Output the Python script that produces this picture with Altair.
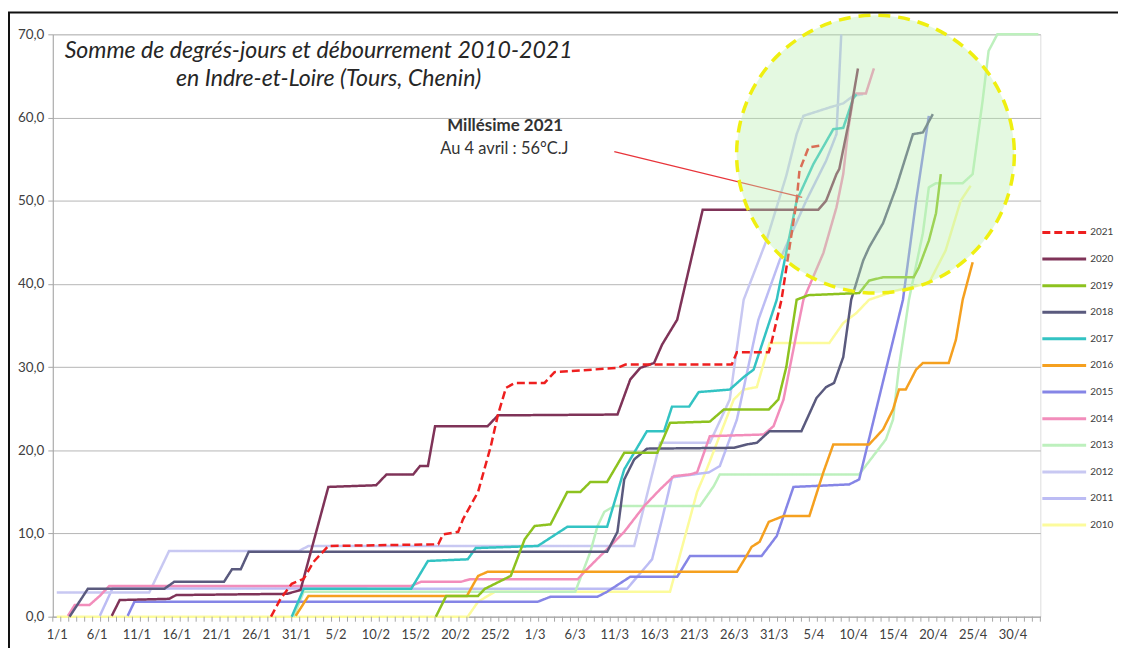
import altair as alt
import pandas as pd

# ---------------- data ----------------
years = ["2021", "2020", "2019", "2018", "2017", "2016",
         "2015", "2014", "2013", "2012", "2011", "2010"]
colors = ["#ee1f1f", "#7f3358", "#8dc21f", "#5a5a7e", "#33c3c3", "#f5a01f",
          "#8585e6", "#f28dbb", "#bdf0bd", "#c8c8f2", "#bcbcf4", "#fcfb9c"]
tick_labels = ["1/1", "6/1", "11/1", "16/1", "21/1", "26/1", "31/1", "5/2", "10/2",
               "15/2", "20/2", "25/2", "1/3", "6/3", "11/3", "16/3", "21/3", "26/3",
               "31/3", "5/4", "10/4", "15/4", "20/4", "25/4", "30/4"]
label_days = [0, 5, 10, 15, 20, 25, 30, 35, 40, 45, 50, 55, 60, 65, 70, 75, 80, 85,
              90, 95, 100, 105, 110, 115, 120]
category_edges = [c - 0.5 for c in range(0, 125)]

d2021 = [26.9, 28.1, 29.5, 31, 32.25, 34.1, 47.9, 48.5, 50.4, 51, 52.9, 54.5, 55.4, 56.4,
         57.5, 61.25, 62.5, 70.4, 71.4, 84.75, 85.4, 89.4, 89.75, 91, 92.9, 93.25, 94.4, 95.75]
v2021 = [0, 2.15, 3.95, 4.55, 6.6, 8.5, 8.7, 9.9, 10.2, 11.7, 15.0, 20.5, 24.3, 27.5,
         28.1, 28.1, 29.4, 29.9, 30.3, 30.3, 31.8, 31.8, 33.0, 38.1, 50.0, 53.6, 56.4, 56.6]

d2020 = [6.9, 7.9, 14.1, 15, 28.9, 30.6, 34.1, 40.1, 41.4, 44.75, 45.6, 46.6, 47.5, 54.1,
         55.4, 70.4, 72, 73.25, 75, 76, 77.9, 81.1, 95.6, 96.6, 97.9, 98.25, 99.4, 100.6]
v2020 = [0.1, 2.0, 2.15, 2.6, 2.75, 3.2, 15.6, 15.8, 17.1, 17.1, 18.1, 18.1, 22.9, 22.9,
         24.2, 24.3, 28.5, 29.9, 30.5, 32.7, 35.7, 48.9, 48.9, 50.0, 53.2, 53.8, 59.2, 65.9]

d2019 = [47.6, 48.9, 52.9, 53.75, 57, 58.75, 60, 62, 64.1, 65.75, 67, 69.1, 71.25, 75.4,
         77, 82, 83.75, 89.4, 90.6, 91.6, 92.9, 94.4, 100.75, 102, 103.75, 107.6, 108.25,
         109.5, 110.4, 111]
v2019 = [0, 2.5, 2.5, 3.35, 4.9, 9.3, 10.9, 11.1, 15.0, 15.0, 16.2, 16.2, 19.7, 19.7,
         23.3, 23.45, 24.9, 24.9, 26.1, 30.0, 38.1, 38.65, 38.9, 40.4, 40.8, 40.8, 42.0,
         45.2, 48.5, 53.2]

d2018 = [1.6, 3.9, 13.5, 14.75, 21, 22, 23.1, 24.1, 69.1, 70.4, 71.25, 72.5, 74.1, 85,
         86.6, 87.9, 89.5, 93.5, 95.4, 96.6, 97.6, 98.75, 99.75, 101.25, 102, 103.75,
         105.4, 107.5, 108.75, 110]
v2018 = [0, 3.35, 3.35, 4.2, 4.2, 5.7, 5.7, 7.8, 7.8, 10.2, 16.5, 18.9, 20.2, 20.3,
         20.7, 20.9, 22.3, 22.3, 26.3, 27.6, 28.1, 31.2, 38.1, 42.8, 44.4, 47.3,
         51.6, 58.0, 58.2, 60.4]

d2017 = [29.5, 31, 44.5, 46.6, 51.6, 52.6, 60.4, 64.1, 69.1, 71.25, 74.1, 76.25, 77.25,
         79.4, 80.6, 84.5, 86.25, 87.5, 90.4, 92.9, 95, 97.5, 98.75, 100, 100.4]
v2017 = [0, 3.35, 3.35, 6.7, 6.9, 8.25, 8.5, 10.8, 10.8, 17.7, 22.3, 22.3, 25.25,
         25.25, 27.0, 27.3, 28.8, 29.7, 38.1, 50.0, 54.4, 58.6, 58.75, 62.3, 62.8]

d2016 = [30, 31.6, 51.5, 52.9, 54.1, 85.4, 86.6, 87.25, 88.25, 89.4, 91.25, 94.5, 96.25,
         97.5, 102, 103.75, 105, 105.75, 106.6, 107.9, 108.75, 112, 112.9, 113.75, 115]
v2016 = [0.1, 2.5, 2.5, 4.9, 5.4, 5.4, 7.3, 8.4, 9.0, 11.4, 12.1, 12.1, 17.35,
         20.7, 20.7, 22.5, 24.9, 27.3, 27.3, 29.7, 30.5, 30.5, 33.3, 38.1, 42.6]

d2015 = [8.9, 9.75, 60.4, 62, 67.9, 69.1, 72, 77.9, 79.5, 88.5, 90.4, 92.5, 99.5, 100.75,
         106.25, 107.9, 109.5]
v2015 = [0.1, 1.8, 1.8, 2.4, 2.4, 3.0, 4.8, 4.8, 7.3, 7.3, 9.7, 15.6, 15.9, 16.5,
         38.1, 50.0, 60.2]

d2014 = [1.4, 2.25, 4.1, 5.4, 6.6, 44.5, 45.75, 50.75, 51.9, 65.4, 66.25, 69.5, 71.25,
         73.75, 75.75, 77.5, 79.5, 80.4, 82, 88.75, 90, 91.25, 92.9, 93.75, 96.25, 97.9,
         98.75, 99.4, 100, 100.4, 101.6, 102.6]
v2014 = [0.1, 1.4, 1.4, 2.5, 3.7, 3.7, 4.2, 4.2, 4.5, 4.5, 5.4, 8.5, 10.2,
         13.3, 15.3, 16.9, 17.1, 17.35, 21.7, 21.9, 22.9, 26.1, 34.1, 38.1, 43.7, 49.2,
         53.2, 58.75, 62.3, 62.9, 62.9, 65.9]

d2013 = [29.75, 31, 65.1, 67, 67.9, 68.75, 70, 80.75, 82.5, 83.25, 100.75, 102.5, 104.1,
         105, 105.75, 107, 108.75, 109.5, 110.4, 113.75, 115, 116.25, 117, 118.1, 123.25]
v2013 = [0, 3.0, 3.0, 7.8, 10.9, 12.6, 13.3, 13.3, 15.7, 17.1, 17.1, 19.3, 21.3,
         23.7, 30.0, 38.1, 46.1, 51.6, 52.1, 52.1, 53.2, 62.0, 68.0, 70.0, 70.0]

d2012 = [0, 11.6, 14.1, 30.4, 31.6, 72.5, 75.75, 82, 84.5, 86.25, 89.1, 91.6, 92.9,
         93.75, 97, 98.75, 100, 101.25]
v2012 = [2.9, 2.9, 7.9, 7.9, 8.5, 8.5, 20.9, 20.9, 26.1, 38.1, 45.2, 53.0, 58.0,
         60.2, 61.2, 61.7, 62.6, 62.8]

d2011 = [5.4, 7, 71.6, 74.75, 76, 77.25, 81.9, 83.25, 85.4, 88.1, 90.75, 94.1, 96.6,
         97.9, 98.5]
v2011 = [0.1, 3.4, 3.35, 6.9, 11.7, 16.75, 17.35, 18.1, 23.7, 35.7, 42.8, 50.0, 54.8,
         58.0, 70.0]

d2010 = [0, 51.6, 52.9, 55, 77, 80.4, 81.6, 85, 86.25, 87.9, 89.5, 97, 98.75, 100.4,
         102, 105.4, 109.5, 111.6, 113.5, 114.75]
v2010 = [0, 0, 1.8, 3.0, 3.0, 15.0, 17.7, 26.1, 27.3, 27.6, 32.9, 32.9, 35.3, 36.5,
         38.1, 39.2, 40.1, 44.0, 50.0, 51.8]

series = {
    "2021": (d2021, v2021), "2020": (d2020, v2020), "2019": (d2019, v2019),
    "2018": (d2018, v2018), "2017": (d2017, v2017), "2016": (d2016, v2016),
    "2015": (d2015, v2015), "2014": (d2014, v2014), "2013": (d2013, v2013),
    "2012": (d2012, v2012), "2011": (d2011, v2011), "2010": (d2010, v2010),
}

# annotation values
circle_day, circle_val = [102.8], [55.6]
arrow_day, arrow_val, arrow_day2, arrow_val2 = [70.0], [55.9], [93.6], [50.4]
note_lines = ["Millésime 2021", "Au 4 avril : 56°C.J"]
note_day = [56.3, 56.2]
note_val = [59.0, 56.2]
title_lines = ["Somme de degrés-jours et débourrement 2010-2021",
               "en Indre-et-Loire (Tours, Chenin)"]

# ---------------- tables ----------------
rows = []
for yr in reversed(years):
    dd, vv = series[yr]
    for d, v in zip(dd, vv):
        rows.append({"year": yr, "day": d, "value": v})
df = pd.DataFrame(rows)

dashes = [[8, 4]] + [[1, 0]] * (len(years) - 1)
FONT = "Lato"
GREY = "#404040"
AXIS_GREY = "#a6a6a6"

labels_js = "[" + ",".join("'" + t + "'" for t in tick_labels) + "]"
x_scale = alt.Scale(domain=[-0.5, 123.5], nice=False, zero=False)
y_scale = alt.Scale(domain=[0, 70], nice=False, zero=True)
color_scale = alt.Scale(domain=years, range=colors)
dash_scale = alt.Scale(domain=years, range=dashes)

x_axis = alt.Axis(
    values=label_days,
    labelExpr=f"{labels_js}[round(datum.value / 5)]",
    labelFlush=False, labelOverlap=False, labelAngle=0,
    tickSize=5, tickOpacity=0, domainColor=AXIS_GREY, grid=False,
    labelFontSize=13, labelColor=GREY, labelFont=FONT, labelPadding=7, title=None,
)
y_axis = alt.Axis(
    values=[0, 10, 20, 30, 40, 50, 60, 70],
    labelExpr="replace(format(datum.value, '.1f'), '.', ',')",
    grid=True, gridColor="#b5b5b5", gridWidth=1, tickSize=5, tickColor=AXIS_GREY,
    domainColor=AXIS_GREY, labelFontSize=13.5, labelColor=GREY, labelFont=FONT,
    labelPadding=4, title=None,
)

lines = alt.Chart(df).mark_line(strokeWidth=2.5).encode(
    x=alt.X("day:Q", scale=x_scale, axis=x_axis),
    y=alt.Y("value:Q", scale=y_scale, axis=y_axis),
    color=alt.Color("year:N", scale=color_scale, legend=None),
    strokeDash=alt.StrokeDash("year:N", scale=dash_scale, legend=None),
)

ticks_df = pd.DataFrame({"t": category_edges})
minor_ticks = alt.Chart(ticks_df).mark_rule(color=AXIS_GREY, strokeWidth=1).encode(
    x="t:Q", y=alt.value(585), y2=alt.value(590))

arrow_df = pd.DataFrame({"d": arrow_day, "v": arrow_val, "d2": arrow_day2, "v2": arrow_val2})
arrow = alt.Chart(arrow_df).mark_rule(color="#e8343a", strokeWidth=1.3).encode(
    x="d:Q", y="v:Q", x2="d2:Q", y2="v2:Q")

circle_df = pd.DataFrame({"d": circle_day, "v": circle_val})
circle = alt.Chart(circle_df).mark_point(
    shape="circle", filled=True, size=279 ** 2, fill="#b8eeb0", fillOpacity=0.38,
    stroke="#efef10", strokeWidth=3.5, strokeDash=[12, 8], strokeOpacity=1, opacity=1,
).encode(x="d:Q", y="v:Q")

note_df = pd.DataFrame({"t": note_lines, "d": note_day, "v": note_val})
note1 = alt.Chart(note_df.iloc[[0]]).mark_text(
    font=FONT, fontSize=17, fontWeight="bold", color="#333333", align="center",
    baseline="middle").encode(x="d:Q", y="v:Q", text="t:N")
note2 = alt.Chart(note_df.iloc[[1]]).mark_text(
    font=FONT, fontSize=16.5, color="#333333", align="center",
    baseline="middle").encode(x="d:Q", y="v:Q", text="t:N")

one = pd.DataFrame({"k": [0]})
title1 = alt.Chart(one).mark_text(
    text=title_lines[0], font=FONT, fontStyle="italic", fontSize=23.2, color="#262626",
    align="center", baseline="middle").encode(x=alt.value(267), y=alt.value(17))
title2 = alt.Chart(one).mark_text(
    text=title_lines[1], font=FONT, fontStyle="italic", fontSize=23.2, color="#262626",
    align="center", baseline="middle").encode(x=alt.value(277), y=alt.value(45))

frame_top = alt.Chart(one).mark_rule(color="#111111", strokeWidth=2).encode(
    x=alt.value(-45), x2=alt.value(1070), y=alt.value(-22))
frame_left = alt.Chart(one).mark_rule(color="#111111", strokeWidth=2).encode(
    x=alt.value(-44), y=alt.value(-22), y2=alt.value(640))

main = alt.layer(lines, minor_ticks, arrow, circle, note1, note2, title1, title2,
                 frame_top, frame_left)

leg_df = pd.DataFrame({"year": years})
leg_y = alt.Y("year:N", sort=years,
              scale=alt.Scale(type="point", domain=years, range=[199, 493], padding=0),
              axis=None)
leg_rule = alt.Chart(leg_df).mark_rule(strokeWidth=3).encode(
    x=alt.value(994), x2=alt.value(1038), y=leg_y,
    color=alt.Color("year:N", scale=color_scale, legend=None),
    strokeDash=alt.StrokeDash("year:N", scale=dash_scale, legend=None),
)
leg_text = alt.Chart(leg_df).mark_text(
    align="left", baseline="middle", font=FONT, fontSize=10, color=GREY
).encode(x=alt.value(1042), y=leg_y, text="year:N")
legend = alt.layer(leg_rule, leg_text)

chart = alt.layer(main, legend).resolve_scale(y="independent").properties(
    width=992, height=585,
    autosize=alt.AutoSizeParams(type="none"),
    padding={"left": 45, "top": 25, "right": 78, "bottom": 30},
).configure_view(stroke=None).configure(background="white")

chart.save("out.html", embed_options={"renderer": "svg", "actions": False})
